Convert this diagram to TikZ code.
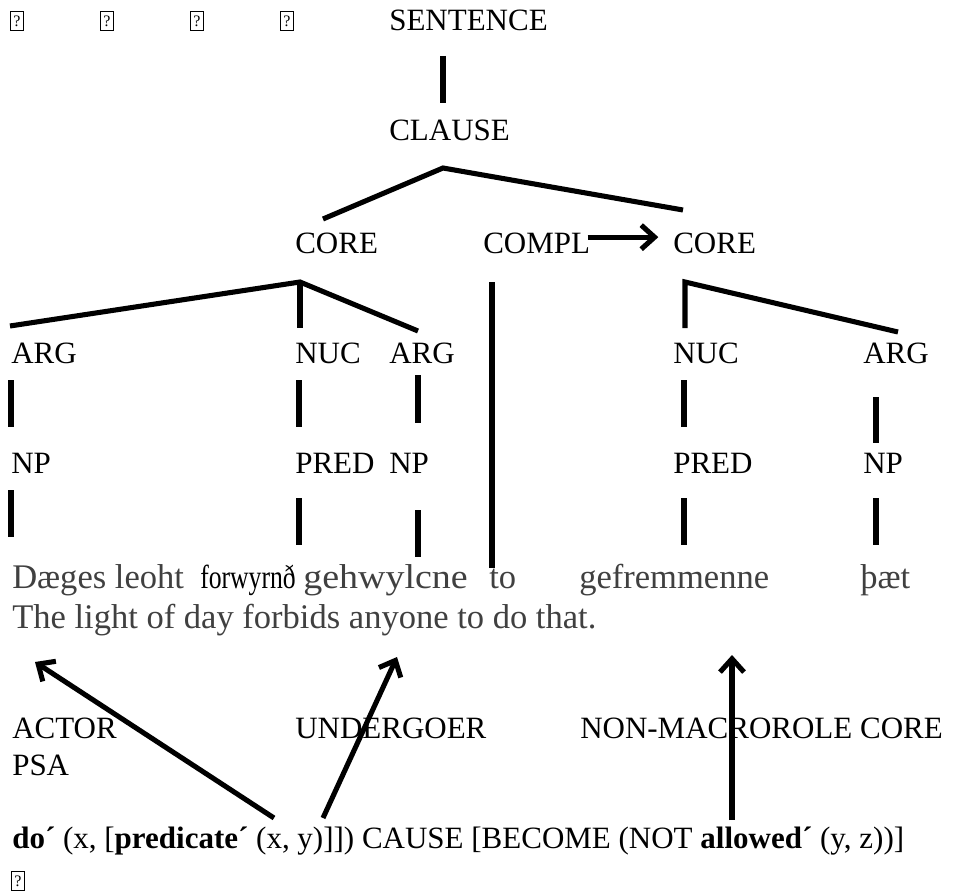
\documentclass[tikz,border=0pt]{standalone}
\usepackage{fontspec}
\setmainfont{Liberation Serif}
\usetikzlibrary{arrows.meta}
\definecolor{glossgray}{HTML}{404040}
\tikzset{
  lbl/.style={anchor=base west, inner sep=0pt, font=\fontsize{23.25}{28}\selectfont},
  gloss/.style={anchor=base west, inner sep=0pt, text=glossgray, font=\fontsize{25.9}{31}\selectfont},
  branch/.style={line width=3.8pt},
  role/.style={branch, -{Straight Barb[length=10pt,width=18pt]}},
  qbox/.style={draw, line width=0.6pt, inner sep=0pt, minimum width=9.5pt, minimum height=14pt, font=\fontsize{12}{12}\selectfont},
}
\begin{document}
\begin{tikzpicture}[x=0.75pt,y=-0.75pt]
\useasboundingbox (0,0) rectangle (957,895);
% missing glyphs
\foreach \i/\x in {1/17,2/107,3/197,4/287}
  \node[qbox] (q\i) at (\x,21) {?};
\node[qbox] (q5) at (18,881) {?};

% tree labels
\node[lbl] (sent) at (389,31) {SENTENCE};
\node[lbl] (clause) at (389,141) {CLAUSE};
\node[lbl] (core1) at (295,253) {CORE};
\node[lbl] (compl) at (483,253) {COMPL};
\node[lbl] (core2) at (673,253) {CORE};
\node[lbl] (arg1) at (11,363) {ARG};
\node[lbl] (nuc1) at (295,363) {NUC};
\node[lbl] (arg2) at (389,363) {ARG};
\node[lbl] (nuc2) at (673,363) {NUC};
\node[lbl] (arg3) at (863,363) {ARG};
\node[lbl] (np1) at (11,473) {NP};
\node[lbl] (pred1) at (295,473) {PRED};
\node[lbl] (np2) at (389,473) {NP};
\node[lbl] (pred2) at (673,473) {PRED};
\node[lbl] (np3) at (863,473) {NP};

% Old English and translation
\node[gloss] (dl) at (12,588) {Dæges leoht};
\node[gloss, text=black] (fw) at (200,588) {\scalebox{0.77}[1]{\fontsize{25}{30}\selectfont forwyrnð}};
\node[gloss] (gh) at (303,588) {\scalebox{1.1}[1]{gehwylcne}};
\node[gloss] (to) at (489,588) {to};
\node[gloss] (gf) at (579,588) {gefremmenne};
\node[gloss] (th) at (860,588) {þæt};
\node[gloss] (eng) at (12,628) {The light of day forbids anyone to do that.};

% roles and logical structure
\node[lbl] (actor) at (12,738) {ACTOR};
\node[lbl] (psa) at (12,775) {PSA};
\node[lbl] (und) at (295,738) {UNDERGOER};
\node[lbl] (nmr) at (580,738) {NON-MACROROLE CORE};
\node[lbl] (ls) at (12,848) {\textbf{do´} (x, [\textbf{predicate´} (x, y)]]) CAUSE [BECOME (NOT \textbf{allowed´} (y, z))]};

% branches
\coordinate (sTop) at (443,56);
\coordinate (clApex) at (443,168);
\coordinate (clL) at (323,219);
\coordinate (clR) at (683,210);
\coordinate (lApex) at (300,282);
\coordinate (lArg) at (10,326);
\coordinate (lNuc) at (300,328);
\coordinate (lArg2) at (418,331);
\coordinate (complTop) at (492,282);
\coordinate (complBot) at (492,568);
\coordinate (rApex) at (685,282);
\coordinate (rNuc) at (685,328);
\coordinate (rArg) at (898,332);
\draw[branch] (sTop) -- ++(0,47);
\draw[branch] (clL) -- (clApex) -- (clR);
\draw[branch] (lArg) -- (lApex) -- (lArg2);
\draw[branch] (lApex) -- (lNuc);
\draw[branch] (complTop) -- (complBot);
\draw[branch] (rNuc) -- (rApex) -- (rArg);
\foreach \n/\x/\a/\b in {a/11/380/427, b/299/380/427, c/418/375/423, d/684/380/427, e/876/397/443,
                         f/11/490/537, g/299/498/545, h/418/510/557, i/684/498/545, j/876/498/545} {
  \coordinate (\n-t) at (\x,\a);
  \coordinate (\n-b) at (\x,\b);
  \draw[branch] (\n-t) -- (\n-b);
}
\draw[role] ([yshift=4.3pt,xshift=-2pt]compl.east) -- ([yshift=4.3pt,xshift=-11pt]core2.west);

% linking arrows
\coordinate (actTail) at (274,818);
\coordinate (actHead) at (35,662);
\coordinate (undTail) at (323,818);
\coordinate (undHead) at (397,657);
\coordinate (nmrTail) at (732,820);
\coordinate (nmrHead) at (732,655);
\draw[role] (actTail) -- (actHead);
\draw[role] (undTail) -- (undHead);
\draw[role] (nmrTail) -- (nmrHead);
\end{tikzpicture}
\end{document}
